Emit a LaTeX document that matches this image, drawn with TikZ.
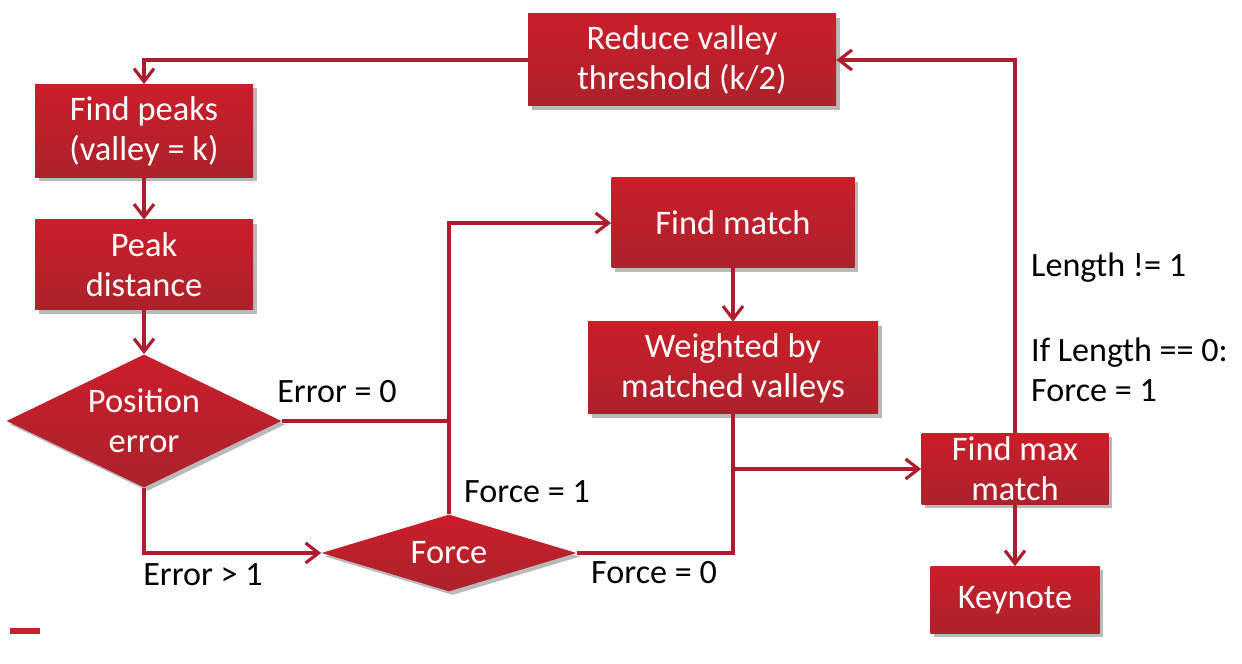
\documentclass[tikz,border=0pt]{standalone}
\usepackage{fontspec}
\setmainfont{Carlito}
\usetikzlibrary{shapes.geometric,shadows,arrows.meta}
\definecolor{boxtop}{RGB}{202,30,42}
\definecolor{boxbottom}{RGB}{172,34,44}
\definecolor{linered}{RGB}{172,30,46}

\begin{document}
\begin{tikzpicture}[red_box/.style={rectangle,top color=boxtop,bottom color=boxbottom,text=white,align=center,inner sep=0pt,font=\fontsize{19.6}{22.7}\selectfont,drop shadow={shadow xshift=2pt,shadow yshift=-2pt,opacity=0.55}},
  red_diamond/.style={red_box,diamond},
  flow_line/.style={draw=linered,line width=2.2pt},
  flow_arrow/.style={flow_line,-{Straight Barb[length=2.6mm,width=4mm,line width=1.8pt]}},
  flow_label/.style={font=\fontsize{19.4}{22.7}\selectfont,align=left}]

    \useasboundingbox (0,0) rectangle (24.84,13.28);

    \node[red_box,minimum width=6.16cm,minimum height=1.84cm] (1) at (13.64,12.08) {Reduce valley\\threshold (k/2)};
    \node[red_box,minimum width=4.36cm,minimum height=1.86cm] (2) at (2.88,10.66) {Find peaks\\(valley = k)};
    \node[red_box,minimum width=4.36cm,minimum height=1.8cm] (3) at (2.88,7.98) {Peak\\distance};
    \node[red_diamond,aspect=2.1,minimum width=5.5cm,minimum height=2.66cm] (4) at (2.88,4.86) {Position\\error};
    \node[red_diamond,aspect=3.3,minimum width=5.1cm,minimum height=1.54cm] (5) at (8.98,2.22) {Force};
    \node[red_box,minimum width=4.86cm,minimum height=1.8cm] (6) at (14.66,8.82) {Find match};
    \node[red_box,minimum width=5.8cm,minimum height=1.84cm] (7) at (14.66,5.92) {Weighted by\\matched valleys};
    \node[red_box,minimum width=3.74cm,minimum height=1.42cm] (8) at (20.3,3.9) {Find max\\match};
    \node[red_box,minimum width=3.38cm,minimum height=1.34cm] (9) at (20.3,1.28) {Keynote};

    \draw[flow_arrow] (1.west) -| (2.north);
    \draw[flow_arrow] (2) -- (3);
    \draw[flow_arrow] (3) -- (4);
    \draw[flow_line] (4.east) -- (4.east -| 5.north);
    \draw[flow_arrow] (5.north) |- (6.west);
    \draw[flow_arrow] (4.south) |- (5.west);
    \draw[flow_line] (5.east) -| (7.south);
    \draw[flow_arrow] (6) -- (7);
    \draw[flow_arrow] (7.south) |- (8.west);
    \draw[flow_arrow] (8.north) |- (1.east);
    \draw[flow_arrow] (8) -- (9);

    \node[flow_label] (10) at (6.74,5.44) {Error = 0};
    \node[flow_label] (11) at (4.06,1.78) {Error > 1};
    \node[flow_label] (12) at (10.54,3.44) {Force = 1};
    \node[flow_label] (13) at (13.08,1.82) {Force = 0};
    \node[flow_label,anchor=west] (14) at (20.5,7.92) {Length != 1};
    \node[flow_label,anchor=west] (15) at (20.5,5.88) {If Length == 0:\\Force = 1};

    \fill[boxtop] (0.2,0.6) rectangle (0.8,0.72);
\end{tikzpicture}
\end{document}
